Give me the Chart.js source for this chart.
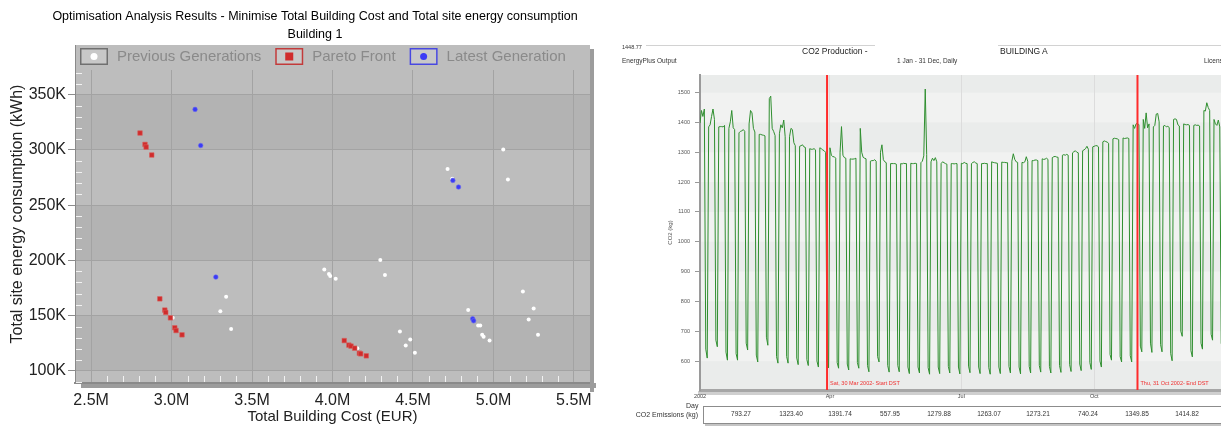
<!DOCTYPE html>
<html>
<head>
<meta charset="utf-8">
<script src="https://cdn.jsdelivr.net/npm/chart.js@4.4.0/dist/chart.umd.min.js"></script>
<style>
  html, body { margin: 0; padding: 0; background: #fff; overflow: hidden; width: 1221px; height: 426px; }
  #left { position: absolute; left: 0; top: 0; }
  #right { position: absolute; left: 612px; top: 0; }
  .t { position: absolute; font-family: "Liberation Sans", Arial, sans-serif; color: #333; white-space: nowrap; line-height: 1; transform: translateY(-50%); }
  .hl { position: absolute; height: 0; border-top: 1px solid #d2d2d2; }
  #tbl { position: absolute; left: 703px; top: 406px; width: 540px; height: 16px; border: 1px solid #8c8c8c; box-shadow: 2px 2px 0 #c4c4c4; }
</style>
</head>
<body>
<canvas id="left" width="600" height="426"></canvas>
<canvas id="right" width="630" height="426"></canvas>

<div class="hl" style="left:646px; top:45px; width:229px;"></div>
<div class="hl" style="left:998px; top:45px; width:240px;"></div>
<div class="t" style="left:622px; top:48px; font-size:5.5px;">1448.77</div>
<div class="t" style="left:622px; top:61px; font-size:6.5px;">EnergyPlus Output</div>
<div class="t" style="left:802px; top:51px; font-size:8.5px; color:#222;">CO2 Production -</div>
<div class="t" style="left:1000px; top:51px; font-size:8.5px; color:#222;">BUILDING A</div>
<div class="t" style="left:897px; top:61px; font-size:6.5px;">1 Jan - 31 Dec, Daily</div>
<div class="t" style="left:1204px; top:61px; font-size:6.5px;">Licens</div>
<div class="t" style="left:686px; top:405px; font-size:7px;">Day</div>
<div class="t" style="left:600px; width:98px; text-align:right; top:414px; font-size:7px;">CO2 Emissions (kg)</div>
<div id="tbl"></div>
<div id="tblVals"></div>

<script>
// ---- left chart: optimisation results (cost in M EUR, energy in K kWh)
const prevCost = [3.339, 3.303, 3.370, 3.007, 3.949, 3.978, 3.986, 4.020, 4.297, 4.326, 4.419, 4.483, 4.455, 4.512, 4.154,
  4.715, 4.744, 5.061, 5.090, 4.843, 4.905, 4.918, 4.930, 4.939, 4.976, 5.183, 5.250, 5.219, 5.277];
const prevEnergy = [167, 154, 137.8, 148, 191.8, 187.6, 185.8, 183.3, 200.3, 186.7, 135.6, 128.3, 122.9, 116.3, 120.5,
  282.7, 273.9, 300.5, 273.3, 155, 141, 141, 132.6, 130.8, 127.4, 171.8, 156.5, 146.4, 132.6];

const paretoCost = [2.804, 2.835, 2.842, 2.877, 2.927, 2.958, 2.964, 2.993, 3.020, 3.028, 3.065,
  4.073, 4.102, 4.115, 4.138, 4.167, 4.175, 4.210];
const paretoEnergy = [315.3, 305, 302.6, 295.4, 165.2, 155, 152.9, 148, 139, 136.5, 132.6,
  127.4, 123.3, 122.4, 120.5, 116, 115.4, 113.6];

const latestCost = [3.146, 3.181, 3.275, 4.748, 4.783, 4.871, 4.877];
const latestEnergy = [336.7, 304, 184.9, 272.4, 266.4, 147.1, 145.3];

const costTicks = [2.5, 3.0, 3.5, 4.0, 4.5, 5.0, 5.5];
const energyTicks = [100, 150, 200, 250, 300, 350];
const leftTitle = ['Optimisation Analysis Results - Minimise Total Building Cost and Total site energy consumption', 'Building 1'];

// ---- right chart: daily CO2 (kg), first row Tue 1 Jan - Sun 6 Jan, then Mon..Sun weeks
const co2Weeks = [
  [1398, 1440, 1420, 1445, 640, 610],
  [1385, 1392, 1420, 1445, 1410, 670, 648],
  [1385, 1386, 1386, 1385, 1390, 630, 603],
  [1380, 1402, 1440, 1382, 1376, 625, 603],
  [1365, 1370, 1372, 1376, 1370, 660, 637],
  [1395, 1440, 1432, 1380, 1368, 620, 597],
  [1360, 1360, 1358, 1357, 1355, 680, 653],
  [1480, 1488, 1380, 1370, 1356, 615, 593],
  [1362, 1392, 1382, 1408, 1352, 615, 593],
  [1352, 1380, 1376, 1332, 1322, 610, 588],
  [1320, 1322, 1325, 1318, 1316, 605, 585],
  [1312, 1310, 1310, 1312, 1308, 600, 580],
  [1315, 1312, 1308, 1305, 1300, 600, 577],
  [1315, 1290, 1285, 1285, 1280, 595, 576],
  [1300, 1386, 1290, 1282, 1280, 590, 570],
  [1278, 1277, 1277, 1278, 1280, 595, 576],
  [1380, 1300, 1283, 1280, 1278, 585, 564],
  [1270, 1272, 1272, 1275, 1270, 615, 597],
  [1300, 1325, 1275, 1268, 1265, 585, 563],
  [1262, 1262, 1262, 1262, 1260, 585, 564],
  [1262, 1261, 1263, 1262, 1262, 580, 558],
  [1263, 1262, 1262, 1263, 1262, 580, 560],
  [1265, 1270, 1288, 1512, 1292, 578, 556],
  [1268, 1280, 1272, 1282, 1268, 580, 558],
  [1262, 1268, 1265, 1262, 1260, 582, 560],
  [1262, 1262, 1261, 1262, 1262, 580, 557],
  [1263, 1262, 1266, 1263, 1262, 583, 561],
  [1262, 1266, 1268, 1264, 1262, 580, 558],
  [1262, 1262, 1263, 1262, 1262, 578, 556],
  [1268, 1266, 1265, 1264, 1263, 580, 558],
  [1267, 1266, 1266, 1265, 1265, 582, 560],
  [1270, 1295, 1276, 1268, 1266, 580, 557],
  [1266, 1265, 1268, 1285, 1270, 582, 560],
  [1272, 1272, 1274, 1274, 1272, 585, 563],
  [1278, 1276, 1277, 1280, 1276, 582, 560],
  [1282, 1285, 1286, 1284, 1283, 585, 562],
  [1290, 1292, 1290, 1293, 1290, 588, 565],
  [1298, 1302, 1305, 1300, 1298, 590, 568],
  [1305, 1308, 1312, 1320, 1310, 595, 572],
  [1318, 1320, 1322, 1322, 1318, 600, 580],
  [1335, 1338, 1336, 1334, 1330, 622, 603],
  [1345, 1347, 1346, 1345, 1342, 615, 597],
  [1348, 1346, 1347, 1348, 1346, 618, 597],
  [1392, 1380, 1395, 1397, 1392, 650, 631],
  [1410, 1380, 1432, 1382, 1395, 660, 629],
  [1385, 1390, 1428, 1430, 1402, 655, 631],
  [1388, 1390, 1385, 1387, 1383, 625, 601],
  [1410, 1412, 1410, 1392, 1388, 700, 683],
  [1395, 1393, 1392, 1393, 1390, 635, 614],
  [1390, 1392, 1390, 1391, 1388, 660, 640],
  [1440, 1438, 1466, 1450, 1440, 690, 670],
  [1410, 1395, 1390, 1408, 1385, 660, 640],
  [1400, 1395]
];
const co2Daily = [].concat(...co2Weeks);

const monthTicks = [0, 90, 181, 273];
const monthLabels = ['2002', 'Apr', 'Jul', 'Oct'];
const co2Ticks = [600, 700, 800, 900, 1000, 1100, 1200, 1300, 1400, 1500];
const dstDays = [88, 303];
const dstLabels = ['Sat, 30 Mar 2002- Start DST', 'Thu, 31 Oct 2002- End DST'];
const tableValues = ['793.27', '1323.40', '1391.74', '557.95', '1279.88', '1263.07', '1273.21', '740.24', '1349.85', '1414.82'];

Chart.defaults.font.family = "'Liberation Sans', Arial, sans-serif";

function toPoints(xs, ys) {
  return xs.map((x, i) => ({ x: x, y: ys[i] }));
}

// title sits a little right of the canvas centre in the original, so it is drawn here
const leftTitlePlugin = {
  id: 'leftTitlePlugin',
  afterDraw(chart) {
    const ctx = chart.ctx;
    ctx.save();
    ctx.font = '12.5px "Liberation Sans", Arial, sans-serif';
    ctx.fillStyle = '#000';
    ctx.textAlign = 'center';
    ctx.textBaseline = 'middle';
    leftTitle.forEach((line, i) => ctx.fillText(line, 315, 17 + i * 18));
    ctx.restore();
  }
};

const leftBg = {
  id: 'leftBg',
  beforeDraw(chart) {
    const { ctx, chartArea: a, scales: { y } } = chart;
    ctx.save();
    ctx.fillStyle = '#9c9c9c';
    ctx.fillRect(a.right, a.top + 4, 4, a.bottom - a.top + 5);
    ctx.fillRect(a.left + 6, a.bottom, a.right - a.left, 5);
    ctx.fillStyle = '#bdbdbd';
    ctx.fillRect(a.left, a.top, a.right - a.left, a.bottom - a.top);
    ctx.fillStyle = '#b3b3b3';
    for (let i = 0; i < energyTicks.length - 1; i += 2) {
      const y1 = y.getPixelForValue(energyTicks[i]);
      const y2 = y.getPixelForValue(energyTicks[i + 1]);
      ctx.fillRect(a.left, y2, a.right - a.left, y1 - y2);
    }
    ctx.restore();
  }
};

const leftOverlay = {
  id: 'leftOverlay',
  beforeDatasetsDraw(chart) {
    const { ctx, chartArea: a, scales: { x, y } } = chart;
    ctx.save();
    // minor ticks
    ctx.strokeStyle = '#f2f2f2';
    ctx.lineWidth = 1;
    ctx.beginPath();
    for (let v = 90; v < 395; v += 10) {
      if (v % 50 === 0) continue;
      const py = Math.round(y.getPixelForValue(v)) + 0.5;
      ctx.moveTo(a.left + 1, py);
      ctx.lineTo(a.left + 7, py);
    }
    for (let k = 25; k <= 55; k++) {
      if (k % 5 === 0) continue;
      const px = Math.round(x.getPixelForValue(k / 10)) + 0.5;
      ctx.moveTo(px, a.bottom - 7);
      ctx.lineTo(px, a.bottom - 1);
    }
    ctx.stroke();
    // legend row
    ctx.fillStyle = '#bdbdbd';
    ctx.fillRect(a.left + 1, a.top, a.right - a.left - 1, 25);
    ctx.font = '15px "Liberation Sans", Arial, sans-serif';
    ctx.textBaseline = 'middle';
    let lx = a.left + 5;
    const ly = a.top + 3;
    chart.data.datasets.forEach(ds => {
      ctx.fillStyle = '#c8c8c8';
      ctx.fillRect(lx, ly, 28, 17);
      ctx.strokeStyle = ds.legendFrame;
      ctx.lineWidth = 1.5;
      ctx.strokeRect(lx + 0.75, ly + 0.75, 26.5, 15.5);
      ctx.fillStyle = ds.backgroundColor;
      if (ds.pointStyle === 'rect') {
        ctx.fillRect(lx + 10, ly + 4.5, 8, 8);
      } else {
        ctx.beginPath();
        ctx.arc(lx + 14, ly + 8.5, 3.5, 0, Math.PI * 2);
        ctx.fill();
      }
      ctx.fillStyle = '#8a8a8a';
      ctx.fillText(ds.label, lx + 37, ly + 9);
      lx += 37 + ctx.measureText(ds.label).width + 14;
    });
    ctx.restore();
  }
};

new Chart(document.getElementById('left'), {
  type: 'scatter',
  data: {
    datasets: [
      { label: 'Previous Generations', data: toPoints(prevCost, prevEnergy), backgroundColor: '#ffffff', borderColor: '#ffffff',
        borderWidth: 0, pointRadius: 2, pointStyle: 'circle', order: 3, legendFrame: '#707070' },
      { label: 'Pareto Front', data: toPoints(paretoCost, paretoEnergy), backgroundColor: '#d02c2c', borderColor: '#d9605c',
        borderWidth: 0.6, pointRadius: 3.2, pointStyle: 'rect', order: 2, legendFrame: '#c23a3a' },
      { label: 'Latest Generation', data: toPoints(latestCost, latestEnergy), backgroundColor: '#3b3bf5', borderColor: '#6a6af0',
        borderWidth: 0.6, pointRadius: 2.3, pointStyle: 'circle', order: 1, legendFrame: '#4848e0' }
    ]
  },
  options: {
    responsive: false,
    animation: false,
    layout: { padding: { top: 45, right: 10 } },
    plugins: {
      legend: { display: false },
      tooltip: { enabled: false },
      title: { display: false }
    },
    scales: {
      x: {
        type: 'linear', min: 2.4, max: 5.6,
        afterBuildTicks: s => { s.ticks = costTicks.map(v => ({ value: v })); },
        afterFit: s => { s.height = 43; },
        ticks: { callback: v => v.toFixed(1) + 'M', font: { size: 16 }, color: '#222', padding: 8, maxRotation: 0, autoSkip: false },
        grid: { color: '#a3a3a3', drawTicks: false },
        border: { color: '#8a8a8a', width: 2 },
        title: { display: true, text: 'Total Building Cost (EUR)', font: { size: 15 }, color: '#222', padding: 0 }
      },
      y: {
        type: 'linear', min: 89, max: 395,
        afterBuildTicks: s => { s.ticks = energyTicks.map(v => ({ value: v })); },
        afterFit: s => { s.width = 75; },
        ticks: { callback: v => v + 'K', font: { size: 16 }, color: '#222', padding: 2 },
        grid: { color: '#a3a3a3', tickLength: 7, tickColor: '#8c8c8c' },
        border: { color: '#8a8a8a', width: 1 },
        title: { display: true, text: 'Total site energy consumption (kWh)', font: { size: 16 }, color: '#222', padding: { top: 8.4, bottom: 0 } }
      }
    }
  },
  plugins: [leftBg, leftOverlay, leftTitlePlugin]
});

const rightBg = {
  id: 'rightBg',
  beforeDraw(chart) {
    const { ctx, chartArea: a, scales: { y } } = chart;
    ctx.save();
    ctx.fillStyle = '#f1f2f1';
    ctx.fillRect(a.left, a.top, a.right - a.left, a.bottom - a.top);
    ctx.fillStyle = '#eaeceb';
    const edges = [y.min].concat(co2Ticks, [y.max]);
    for (let i = 0; i < edges.length - 1; i++) {
      if (Math.round(edges[i] / 100) % 2 === 0) continue;
      const y1 = y.getPixelForValue(edges[i]);
      const y2 = y.getPixelForValue(edges[i + 1]);
      ctx.fillRect(a.left, y2, a.right - a.left, y1 - y2);
    }
    ctx.fillStyle = '#cfcfcf';
    ctx.fillRect(a.left - 2, a.bottom + 1, a.right - a.left + 20, 4);
    ctx.restore();
  }
};

const dstMarks = {
  id: 'dstMarks',
  afterDatasetsDraw(chart) {
    const { ctx, chartArea: a, scales: { x } } = chart;
    ctx.save();
    ctx.strokeStyle = '#ff2b2b';
    ctx.lineWidth = 2;
    ctx.fillStyle = '#f03030';
    ctx.font = '5.5px "Liberation Sans", Arial, sans-serif';
    ctx.textBaseline = 'middle';
    dstDays.forEach((d, i) => {
      const px = x.getPixelForValue(d);
      ctx.beginPath();
      ctx.moveTo(px, a.top);
      ctx.lineTo(px, a.bottom);
      ctx.stroke();
      ctx.fillText(dstLabels[i], px + 3, a.bottom - 7);
    });
    ctx.restore();
  }
};

new Chart(document.getElementById('right'), {
  type: 'line',
  data: {
    datasets: [{
      data: co2Daily.map((v, i) => ({ x: i, y: v })),
      borderColor: '#2f8f2f',
      borderWidth: 1,
      borderJoinStyle: 'round',
      pointRadius: 0,
      tension: 0,
      fill: false
    }]
  },
  options: {
    responsive: false,
    animation: false,
    layout: { padding: { top: 75, right: 15 } },
    plugins: { legend: { display: false }, tooltip: { enabled: false } },
    scales: {
      x: {
        type: 'linear', min: 0, max: 365,
        afterBuildTicks: s => { s.ticks = monthTicks.map(v => ({ value: v })); },
        afterFit: s => { s.height = 36; },
        ticks: { callback: v => monthLabels[monthTicks.indexOf(v)], font: { size: 5.5 }, color: '#444', padding: 3, maxRotation: 0, autoSkip: false },
        grid: { color: '#dcdcdc', drawTicks: false },
        border: { color: '#a6a6a6', width: 3 }
      },
      y: {
        type: 'linear', min: 503, max: 1559,
        afterBuildTicks: s => { s.ticks = co2Ticks.map(v => ({ value: v })); },
        afterFit: s => { s.width = 88; },
        ticks: { callback: v => String(v), font: { size: 5.5 }, color: '#555', padding: 5 },
        grid: { drawOnChartArea: false, tickLength: 5, tickColor: '#999' },
        border: { color: '#9a9a9a', width: 2 },
        title: { display: true, text: 'CO2 (kg)', font: { size: 6 }, color: '#555', padding: { top: 55, bottom: 0 } }
      }
    }
  },
  plugins: [rightBg, dstMarks]
});

// summary row below the CO2 chart
const tblCenters = [741, 791, 840, 890, 939, 989, 1038, 1088, 1137, 1187];
document.getElementById('tblVals').innerHTML = tableValues.map((v, i) =>
  '<div class="t" style="left:' + (tblCenters[i] - 20) + 'px; width:40px; text-align:center; top:414px; font-size:6.5px;">' + v + '</div>'
).join('');
</script>
</body>
</html>
